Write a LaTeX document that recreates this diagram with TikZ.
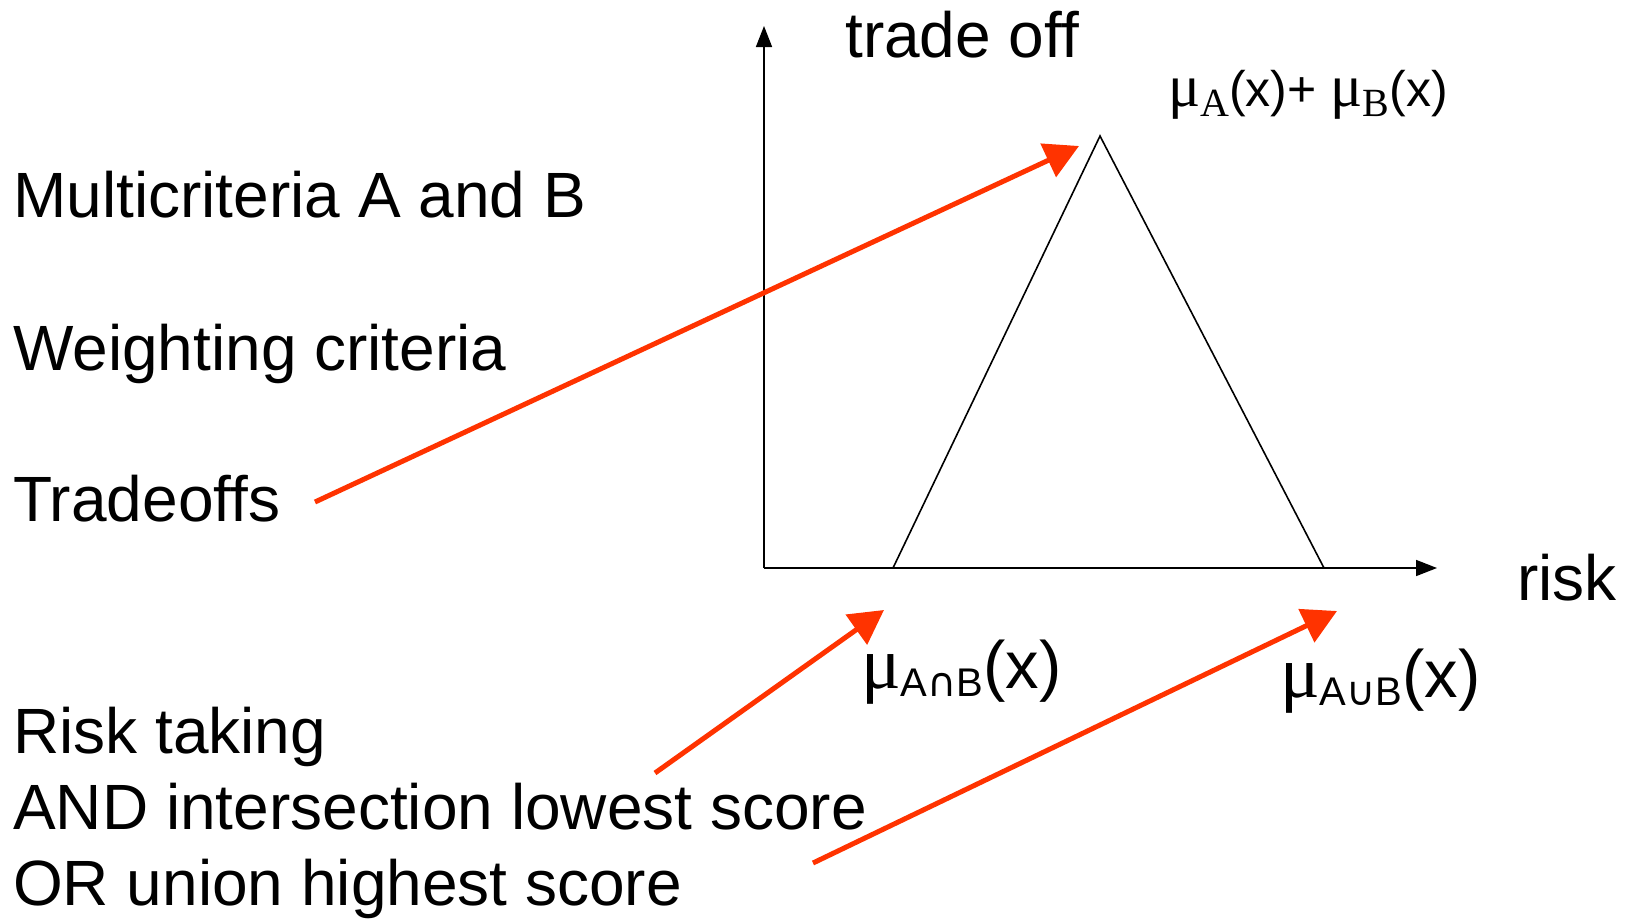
\documentclass[tikz,border=0pt]{standalone}
\usepackage{fontspec}
\setmainfont{Liberation Sans}
\newfontfamily\serifmu{Liberation Serif}
\newfontfamily\setops{DejaVu Sans}
\usetikzlibrary{arrows.meta}

\begin{document}
\begin{tikzpicture}[x=1pt,y=-1pt,>=Triangle,
  lbl/.style={anchor=base west,inner sep=0pt,font=\fontsize{64}{70}\selectfont},
  axis/.style={line width=1.6pt,-{Triangle[length=21pt,width=16pt]}},
  pointer/.style={draw={rgb,255:red,255;green,51;blue,0},line width=5pt,-{Triangle[length=34pt,width=36pt]}}]
\useasboundingbox (0,0) rectangle (1635,919);
% left column texts
\node[lbl] (multi) at (13,217) {Multicriteria A and B};
\node[lbl] (weight) at (13,370) {Weighting criteria};
\node[lbl] (trade) at (13,521) {Tradeoffs};
\node[lbl] (risktake) at (13,753) {Risk taking};
\node[lbl] (andint) at (13,829) {AND intersection lowest score};
\node[lbl] (orun) at (13,905) {OR union highest score};
% axes
\coordinate (orig) at (764,568);
\coordinate (ytop) at (764,26);
\coordinate (xend) at (1437,568);
\draw[axis] (orig)--(ytop);
\draw[axis] (orig)--(xend);
\node[lbl] (ylab) at (845,57) {trade off};
\node[lbl] (xlab) at (1517,600) {risk};
% triangle
\coordinate (tl) at (893,568);
\coordinate (tp) at (1100,136);
\coordinate (tr) at (1324,568);
\draw[line width=1.6pt,line join=miter] (tl)--(tp)--(tr);
% mu labels
\node[anchor=base west,inner sep=0pt,font=\fontsize{50}{54}\selectfont] (musum) at (1168,106)
  {{\serifmu\fontsize{60}{64}\selectfont μ}\raisebox{-10pt}{\serifmu\fontsize{40}{44}\selectfont A}(x)+ {\serifmu\fontsize{60}{64}\selectfont μ}\raisebox{-10pt}{\serifmu\fontsize{40}{44}\selectfont B}(x)};
\node[anchor=base west,inner sep=0pt,font=\fontsize{67}{72}\selectfont] (mucap) at (861,688)
  {{\serifmu\fontsize{74}{78}\selectfont μ}\raisebox{-8pt}{\fontsize{40}{44}\selectfont A{\setops ∩}B}(x)};
\node[anchor=base west,inner sep=0pt,font=\fontsize{67}{72}\selectfont] (mucup) at (1280,697)
  {{\serifmu\fontsize{74}{78}\selectfont μ}\raisebox{-8pt}{\fontsize{40}{44}\selectfont A{\setops ∪}B}(x)};
% red pointers
\coordinate (p1s) at (315,502);
\coordinate (p1e) at (1079,146);
\coordinate (p2s) at (655,773);
\coordinate (p2e) at (884,610);
\coordinate (p3s) at (813,863);
\coordinate (p3e) at (1337,611);
\draw[pointer] (p1s)--(p1e);
\draw[pointer] (p2s)--(p2e);
\draw[pointer] (p3s)--(p3e);
\end{tikzpicture}
\end{document}
